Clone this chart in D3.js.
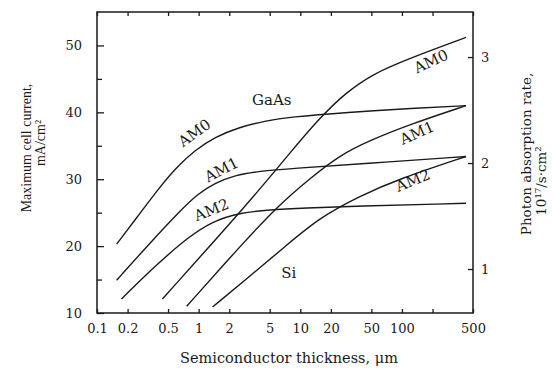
<!DOCTYPE html>
<html>
<head>
<meta charset="utf-8">
<script src="https://cdn.jsdelivr.net/npm/d3@7"></script>
<style>
  body { margin: 0; background: #fff; }
  svg { display: block; }
  .axis path, .axis line { stroke: #1a1a1a; }
  .axis text { font-family: "DejaVu Serif", serif; font-size: 13px; fill: #1a1a1a; }
  .curve { fill: none; stroke: #1a1a1a; stroke-width: 1.4px; }
  .lbl { font-family: "DejaVu Serif", serif; font-size: 15px; fill: #1a1a1a; }
  .title { font-family: "DejaVu Serif", serif; font-size: 14.5px; fill: #1a1a1a; }
  .ltitle { font-family: "Liberation Serif", serif; font-size: 14px; fill: #1a1a1a; }
</style>
</head>
<body>
<div id="chart"></div>
<script>
// thickness (um), max cell current (mA/cm2)
var gaasAM0 = [[0.156,20.3],[0.262,24.8],[0.413,28.8],[0.607,31.8],[0.913,34.3],[1.44,36.3],[2.53,37.8],[4.47,38.7],[7.88,39.3],[28.7,40.0],[128,40.6],[427,41.0]];
var gaasAM1 = [[0.156,14.9],[0.329,20.4],[0.65,25.2],[0.977,27.8],[1.44,29.4],[2.26,30.6],[3.99,31.2],[7.88,31.6],[48.4,32.4],[427,33.4]];
var gaasAM2 = [[0.174,12.1],[0.395,17.4],[0.815,21.5],[1.34,23.6],[2.42,25.0],[7.03,25.7],[427,26.4]];
var siAM0 = [[0.44,12.1],[3.33,27.0],[7.86,33.9],[15.6,39.2],[27.4,42.8],[50.6,45.7],[120,48.1],[427,51.2]];
var siAM1 = [[0.762,11.0],[2.53,19.9],[6.0,26.0],[12.4,30.1],[24.5,33.6],[48.4,35.8],[120,38.2],[427,41.0]];
var siAM2 = [[1.37,10.9],[3.18,15.5],[7.03,19.9],[15.6,24.3],[38.6,27.5],[95.6,30.1],[427,33.4]];

var curves = [gaasAM0, gaasAM1, gaasAM2, siAM0, siAM1, siAM2];

// text labels: [thickness, current, text, rotation]
var curveLabels = [
  [5.24, 41.8, "GaAs", 0],
  [7.7, 16.0, "Si", 0],
  [0.91, 36.9, "AM0", -36],
  [1.68, 31.4, "AM1", -27],
  [1.34, 25.4, "AM2", -22],
  [193, 47.6, "AM0", -25],
  [141, 36.9, "AM1", -24],
  [128, 29.8, "AM2", -22]
];

var xTicks = [0.1, 0.2, 0.5, 1, 2, 5, 10, 20, 50, 100, 200, 500];
var xLabelled = [0.1, 0.2, 0.5, 1, 2, 5, 10, 20, 50, 100, 500];
var yMajor = [10, 20, 30, 40, 50];
var yMinor = [15, 25, 35, 45];
var y2Ticks = [1, 2, 3];

var W = 554, H = 373;
var margin = {top: 12, right: 81, bottom: 60, left: 97};

var svg = d3.select("#chart").append("svg")
  .attr("width", W)
  .attr("height", H);

var x = d3.scaleLog().domain([0.1, 500]).range([margin.left, W - margin.right]);
var y = d3.scaleLinear().domain([10, 55]).range([H - margin.bottom, margin.top]);
var y2 = d3.scaleLinear().domain([0.585, 3.425]).range([H - margin.bottom, margin.top]);

// frame
svg.append("rect")
  .attr("x", margin.left)
  .attr("y", margin.top)
  .attr("width", W - margin.left - margin.right)
  .attr("height", H - margin.top - margin.bottom)
  .style("fill", "none")
  .style("stroke", "#1a1a1a")
  .style("stroke-width", 1.5);

var fmtX = function (d) { return xLabelled.indexOf(d) >= 0 ? String(d) : ""; };

svg.append("g")
  .attr("class", "axis")
  .attr("transform", "translate(0," + (H - margin.bottom) + ")")
  .call(d3.axisBottom(x).tickValues(xTicks).tickFormat(fmtX).tickSize(-4).tickPadding(11))
  .call(function (g) { g.select(".domain").remove(); });

svg.append("g")
  .attr("class", "axis")
  .attr("transform", "translate(0," + margin.top + ")")
  .call(d3.axisTop(x).tickValues(xTicks).tickFormat("").tickSize(-4))
  .call(function (g) { g.select(".domain").remove(); });

svg.append("g")
  .attr("class", "axis")
  .attr("transform", "translate(" + margin.left + ",0)")
  .call(d3.axisLeft(y).tickValues(yMajor).tickSize(-7).tickPadding(15))
  .call(function (g) { g.select(".domain").remove(); });

svg.append("g")
  .attr("class", "axis")
  .attr("transform", "translate(" + margin.left + ",0)")
  .call(d3.axisLeft(y).tickValues(yMinor).tickFormat("").tickSize(-5))
  .call(function (g) { g.select(".domain").remove(); });

svg.append("g")
  .attr("class", "axis")
  .attr("transform", "translate(" + (W - margin.right) + ",0)")
  .call(d3.axisRight(y2).tickValues(y2Ticks).tickFormat(d3.format("d")).tickSize(-5).tickPadding(8))
  .call(function (g) { g.select(".domain").remove(); });

svg.selectAll(".axis line").style("stroke-width", 1.3);

// curves - basis spline smooths the hand-read points
var line = d3.line()
  .x(function (d) { return x(d[0]); })
  .y(function (d) { return y(d[1]); })
  .curve(d3.curveBasis);

svg.selectAll(".curve")
  .data(curves)
  .enter().append("path")
  .attr("class", "curve")
  .attr("d", line);

// curve labels
svg.selectAll(".lbl")
  .data(curveLabels)
  .enter().append("text")
  .attr("class", "lbl")
  .attr("text-anchor", "middle")
  .attr("dominant-baseline", "central")
  .attr("transform", function (d) {
    return "translate(" + x(d[0]) + "," + y(d[1]) + ") rotate(" + d[3] + ")";
  })
  .text(function (d) { return d[2]; });

// axis titles
svg.append("text")
  .attr("class", "title")
  .attr("x", 289).attr("y", 358)
  .attr("text-anchor", "middle")
  .attr("dominant-baseline", "central")
  .text("Semiconductor thickness, \u03bcm");

var lt = svg.append("text")
  .attr("class", "ltitle")
  .attr("text-anchor", "middle")
  .attr("transform", "translate(0,148) rotate(-90)");
lt.append("tspan").attr("x", 0).attr("y", 31).text("Maximum cell current,");
lt.append("tspan").attr("x", 5).attr("y", 45).text("mA/cm\u00b2");

var rt = svg.append("text")
  .attr("class", "ltitle")
  .style("font-family", "'DejaVu Serif', serif")
  .style("font-size", "13.5px")
  .attr("text-anchor", "middle")
  .attr("transform", "translate(0,154) rotate(-90)");
rt.append("tspan").attr("x", 0).attr("y", 531).text("Photon absorption rate,");
rt.append("tspan").attr("x", -27).attr("y", 546).text("10\u00b9\u2077/s\u00b7cm\u00b2");
</script>
</body>
</html>
